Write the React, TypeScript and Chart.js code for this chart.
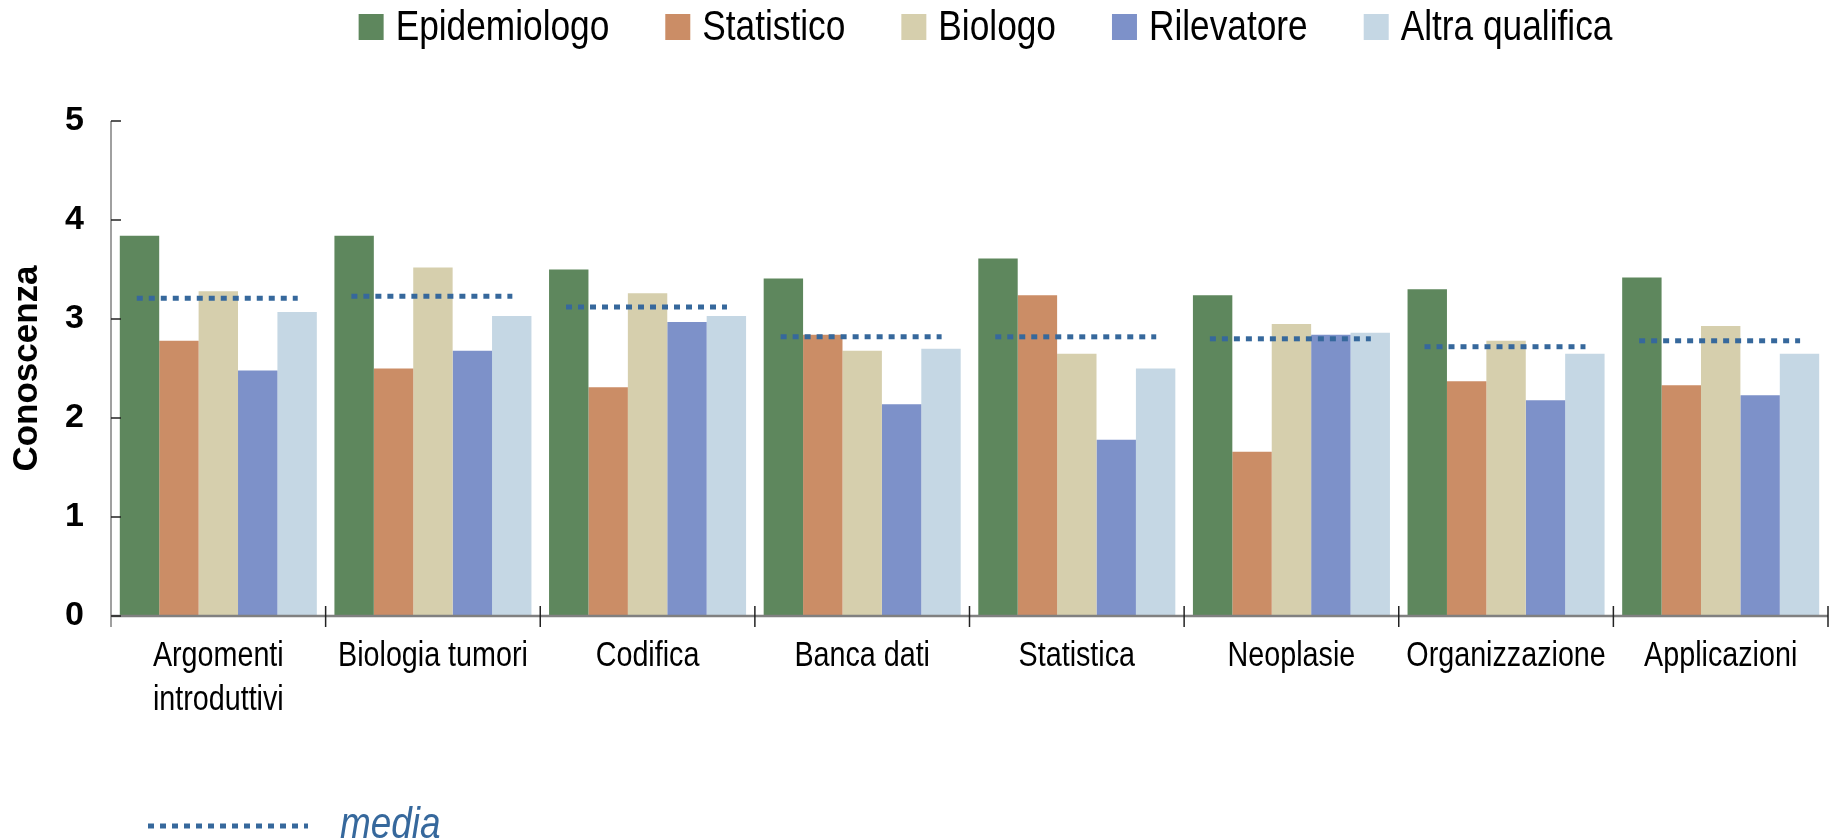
import React, { useEffect, useRef } from "react";
import { Chart, registerables } from "chart.js";

Chart.register(...registerables);

const categories = [
  "Argomenti introduttivi",
  "Biologia tumori",
  "Codifica",
  "Banca dati",
  "Statistica",
  "Neoplasie",
  "Organizzazione",
  "Applicazioni",
];
const tickLabels: (string | string[])[] = [
  ["Argomenti", "introduttivi"],
  "Biologia tumori",
  "Codifica",
  "Banca dati",
  "Statistica",
  "Neoplasie",
  "Organizzazione",
  "Applicazioni",
];
const seriesNames = ["Epidemiologo", "Statistico", "Biologo", "Rilevatore", "Altra qualifica"];
const epidemiologo = [3.84, 3.84, 3.5, 3.41, 3.61, 3.24, 3.3, 3.42];
const statistico = [2.78, 2.5, 2.31, 2.84, 3.24, 1.66, 2.37, 2.33];
const biologo = [3.28, 3.52, 3.26, 2.68, 2.65, 2.95, 2.78, 2.93];
const rilevatore = [2.48, 2.68, 2.97, 2.14, 1.78, 2.84, 2.18, 2.23];
const altraQualifica = [3.07, 3.03, 3.03, 2.7, 2.5, 2.86, 2.65, 2.65];
const media = [3.21, 3.23, 3.12, 2.82, 2.82, 2.8, 2.72, 2.78];
const yTicks = [0, 1, 2, 3, 4, 5];
const yTitle = "Conoscenza";
const mediaLabel = "media";

const seriesColors = ["#5e875d", "#cb8d66", "#d6cfad", "#7d91c9", "#c5d7e4"];
const MEDIA_COLOR = "#36689c";
const FONT = "'Liberation Sans', Arial, Helvetica, sans-serif";
const SQUEEZE = 0.82; // emulate a narrow sans face

function narrowText(ctx: any, text: string, x: number, y: number, align: "left" | "center") {
  ctx.save();
  ctx.translate(x, y);
  ctx.scale(SQUEEZE, 1);
  ctx.textAlign = align;
  ctx.fillText(text, 0, 0);
  ctx.restore();
}

const decorPlugin = {
  id: "decor",
  afterDatasetsDraw(chart: any) {
    const { ctx, chartArea: a, scales } = chart;
    const x = scales.x;
    const y = scales.y;
    const n = categories.length;
    const cw = (a.right - a.left) / n;
    ctx.save();

    // media dotted segments
    ctx.strokeStyle = MEDIA_COLOR;
    ctx.lineWidth = 5;
    ctx.lineCap = "butt";
    ctx.setLineDash([6, 6]);
    media.forEach((v, i) => {
      const cx = x.getPixelForValue(i);
      const py = y.getPixelForValue(v);
      ctx.beginPath();
      ctx.moveTo(cx - cw * 0.38, py);
      ctx.lineTo(cx + cw * 0.37, py);
      ctx.stroke();
    });
    ctx.setLineDash([]);

    // axis lines
    ctx.strokeStyle = "#808080";
    ctx.lineWidth = 2.5;
    ctx.beginPath();
    ctx.moveTo(a.left, a.bottom);
    ctx.lineTo(a.right, a.bottom);
    ctx.stroke();
    ctx.lineWidth = 1.5;
    ctx.beginPath();
    ctx.moveTo(a.left, a.top);
    ctx.lineTo(a.left, a.bottom + 11);
    ctx.stroke();

    // category separators
    ctx.strokeStyle = "#222";
    ctx.lineWidth = 1.5;
    for (let i = 1; i <= n; i++) {
      const px = x.getPixelForValue(i - 1) + cw / 2;
      ctx.beginPath();
      ctx.moveTo(px, a.bottom - 10);
      ctx.lineTo(px, a.bottom + 11);
      ctx.stroke();
    }
    // y inner ticks
    yTicks.forEach((v) => {
      const py = y.getPixelForValue(v);
      ctx.beginPath();
      ctx.moveTo(a.left, py);
      ctx.lineTo(a.left + 10, py);
      ctx.stroke();
    });
    ctx.restore();
  },
  afterDraw(chart: any) {
    const { ctx, chartArea: a, scales } = chart;
    const x = scales.x;
    ctx.save();
    ctx.textBaseline = "alphabetic";

    // category labels (narrow)
    ctx.font = `35px ${FONT}`;
    ctx.fillStyle = "#000";
    tickLabels.forEach((lab, i) => {
      const lines = Array.isArray(lab) ? lab : [lab];
      const cx = x.getPixelForValue(i);
      lines.forEach((ln, j) => narrowText(ctx, ln, cx, a.bottom + 50 + j * 44, "center"));
    });

    // top legend
    ctx.font = `43px ${FONT}`;
    const box = 25;
    const gapText = 12;
    const gapItem = 56;
    const widths = seriesNames.map((s) => box + gapText + ctx.measureText(s).width * SQUEEZE);
    const total = widths.reduce((p, c) => p + c, 0) + gapItem * (seriesNames.length - 1);
    let lx = (a.left + a.right) / 2 + 16 - total / 2;
    seriesNames.forEach((s, i) => {
      ctx.fillStyle = seriesColors[i];
      ctx.fillRect(lx, 14, box, box + 1);
      ctx.fillStyle = "#000";
      narrowText(ctx, s, lx + box + gapText, 40, "left");
      lx += widths[i] + gapItem;
    });

    // bottom media legend
    ctx.strokeStyle = MEDIA_COLOR;
    ctx.lineWidth = 5;
    ctx.setLineDash([6, 6]);
    ctx.beginPath();
    ctx.moveTo(148, 826);
    ctx.lineTo(308, 826);
    ctx.stroke();
    ctx.setLineDash([]);
    ctx.font = `italic 45px ${FONT}`;
    ctx.fillStyle = MEDIA_COLOR;
    narrowText(ctx, mediaLabel, 340, 838, "left");
    ctx.restore();
  },
};

export default function App() {
  const ref = useRef<HTMLCanvasElement | null>(null);
  useEffect(() => {
    if (!ref.current) return;
    const values = [epidemiologo, statistico, biologo, rilevatore, altraQualifica];
    const chart = new Chart(ref.current, {
      type: "bar",
      data: {
        labels: categories,
        datasets: seriesNames.map((name, i) => ({
          label: name,
          data: values[i],
          backgroundColor: seriesColors[i],
          borderWidth: 0,
          categoryPercentage: 0.918,
          barPercentage: 1,
        })),
      },
      options: {
        responsive: true,
        maintainAspectRatio: false,
        animation: false,
        layout: { padding: { top: 121, right: 3, bottom: 0, left: 0 } },
        plugins: {
          legend: { display: false },
          tooltip: { enabled: false },
        },
        scales: {
          x: {
            type: "category",
            offset: true,
            grid: { display: false, drawTicks: false },
            border: { display: false },
            ticks: { display: false },
            afterFit: (s: any) => {
              s.height = 222;
            },
          },
          y: {
            min: 0,
            max: 5,
            grid: { display: false, drawTicks: false },
            border: { display: false },
            ticks: {
              stepSize: 1,
              color: "#000",
              font: { family: FONT, size: 34, weight: "bold" },
              padding: 27,
            },
            title: {
              display: true,
              text: yTitle,
              color: "#000",
              font: { family: FONT, size: 35, weight: "bold" },
              padding: { top: 6, bottom: 0 },
            },
            afterFit: (s: any) => {
              s.width = 111;
            },
          },
        },
      },
      plugins: [decorPlugin],
    });
    return () => chart.destroy();
  }, []);
  return (
    <div style={{ position: "absolute", left: 0, top: 0, width: 1831, height: 838 }}>
      <canvas ref={ref} />
    </div>
  );
}
